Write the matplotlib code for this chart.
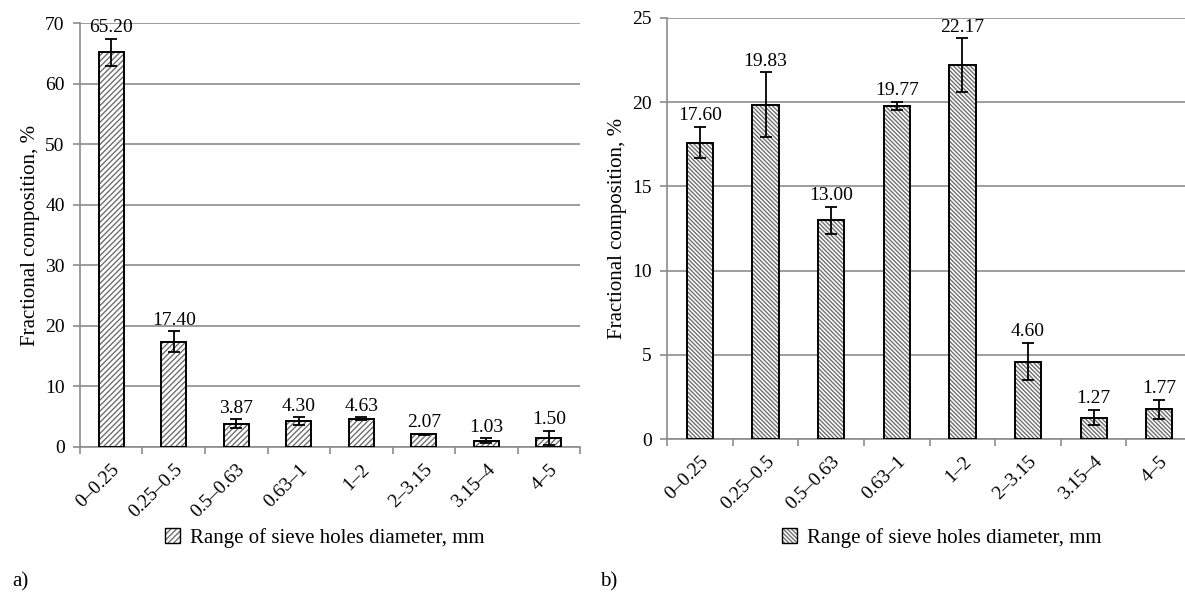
import numpy as np
import matplotlib.pyplot as plt
from matplotlib.patches import Patch
from matplotlib.legend_handler import HandlerTuple

# size ranges, mm
categories = ['0–0.25', '0.25–0.5', '0.5–0.63', '0.63–1', '1–2', '2–3.15', '3.15–4', '4–5']

# (a)
values_a = [65.20, 17.40, 3.87, 4.30, 4.63, 2.07, 1.03, 1.50]
errors_a = [2.25, 1.70, 0.70, 0.60, 0.25, 0.10, 0.40, 1.10]

# (b)
values_b = [17.60, 19.83, 13.00, 19.77, 22.17, 4.60, 1.27, 1.77]
errors_b = [0.92, 1.93, 0.80, 0.25, 1.60, 1.10, 0.45, 0.55]

plt.rcParams['font.family'] = ['Liberation Serif', 'DejaVu Serif']
plt.rcParams['hatch.linewidth'] = 1.0

GRID = '#8c8c8c'
HATCH = '#707070'


def draw(ax, values, errors, ymax, ystep, hatch, leg_x, leg_y):
    x = np.arange(len(categories))
    ax.bar(x, values, width=0.4, color='white', edgecolor=HATCH, hatch=hatch,
           linewidth=0, zorder=2)
    ax.bar(x, values, width=0.4, fill=False, edgecolor='black', linewidth=1.4, zorder=3)
    ax.errorbar(x, values, yerr=errors, fmt='none', ecolor='black', elinewidth=1.3,
                capsize=4.3, capthick=1.3, zorder=4)
    for xi, v, e in zip(x, values, errors):
        ax.annotate(f'{v:.2f}', (xi, v + e), xytext=(0, 2), textcoords='offset points',
                    ha='center', va='bottom', fontsize=14)

    ax.set_xlim(-0.5, len(categories) - 0.5)
    ax.set_ylim(0, ymax)
    ax.set_yticks(np.arange(0, ymax + 0.1, ystep))
    ax.set_xticks(x)
    ax.set_xticks(np.arange(-0.5, len(categories), 1), minor=True)
    ax.set_xticklabels(categories, rotation=45, ha='right', rotation_mode='anchor',
                       fontsize=14)
    ax.tick_params(axis='x', which='major', length=0, pad=10)
    ax.tick_params(axis='x', which='minor', length=5, color=GRID, width=1.2)
    ax.tick_params(axis='y', length=5, color=GRID, width=1.2, labelsize=14, pad=6)
    ax.yaxis.grid(True, color=GRID, linewidth=1.2, zorder=0)
    ax.set_axisbelow(True)
    for s in ['top', 'right']:
        ax.spines[s].set_visible(False)
    for s in ['left', 'bottom']:
        ax.spines[s].set_color(GRID)
        ax.spines[s].set_linewidth(1.2)
    ax.set_ylabel('Fractional composition, %', fontsize=15, labelpad=4)

    h = (Patch(facecolor='white', edgecolor=HATCH, hatch=hatch, linewidth=0),
         Patch(fill=False, edgecolor='black', linewidth=1.0))
    ax.legend([h], ['Range of sieve holes diameter, mm'], handler_map={tuple: HandlerTuple()},
              loc='center', bbox_to_anchor=(leg_x, leg_y), frameon=False,
              fontsize=15, handlelength=0.7, handleheight=0.7, handletextpad=0.5)


fig = plt.figure(figsize=(11.85, 5.92), dpi=100)
ax1 = fig.add_axes([0.0675, 0.245, 0.422, 0.716])
ax2 = fig.add_axes([0.563, 0.258, 0.443, 0.712])

draw(ax1, values_a, errors_a, 70, 10, '//////', 0.49, -0.215)
draw(ax2, values_b, errors_b, 25, 5, '\\\\\\\\\\\\\\\\', 0.524, -0.234)

fig.text(0.010, 0.017, 'a)', fontsize=15, va='center')
fig.text(0.506, 0.017, 'b)', fontsize=15, va='center')

plt.savefig('out.png', dpi=100)
